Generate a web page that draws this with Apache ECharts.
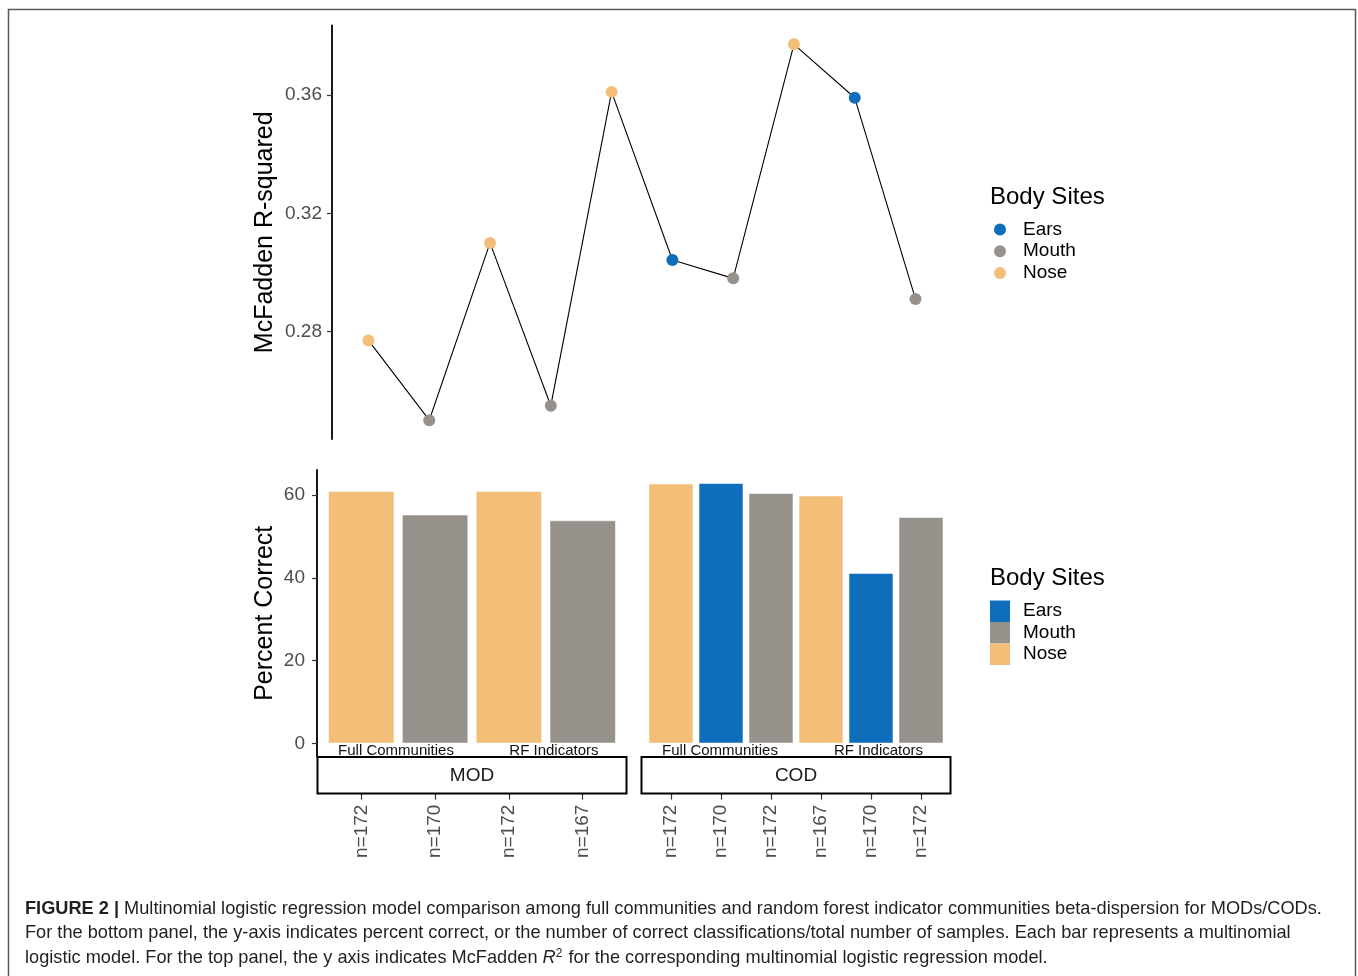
<!DOCTYPE html>
<html>
<head>
<meta charset="utf-8">
<title>Multinomial logistic regression model comparison</title>
<script src="https://cdn.jsdelivr.net/npm/echarts@6/dist/echarts.min.js"></script>
<style>
  html, body { margin: 0; padding: 0; background: #ffffff; }
  #main { width: 1358px; height: 976px; }
</style>
</head>
<body>
<div id="main"></div>
<script>
// ---- data ---------------------------------------------------------------
const siteNames = ['Ears', 'Mouth', 'Nose'];
const siteColors = { Ears: '#0e6ebb', Mouth: '#96918b', Nose: '#f2be78' };

// top panel: McFadden R-squared of each model, in plotting order
const r2Sites  = ['Nose', 'Mouth', 'Nose', 'Mouth', 'Nose', 'Ears', 'Mouth', 'Nose', 'Ears', 'Mouth'];
const r2Values = [0.2770, 0.2500, 0.3100, 0.2549, 0.3611, 0.3042, 0.2980, 0.3772, 0.3591, 0.2910];
const r2Ticks  = [0.28, 0.32, 0.36];

// bottom panel: percent correct, one facet per group
const modSites   = ['Nose', 'Mouth', 'Nose', 'Mouth'];
const modPercent = [61.0, 55.3, 61.0, 53.9];
const modN       = ['n=172', 'n=170', 'n=172', 'n=167'];

const codSites   = ['Nose', 'Ears', 'Mouth', 'Nose', 'Ears', 'Mouth'];
const codPercent = [62.8, 62.9, 60.5, 59.9, 41.2, 54.7];
const codN       = ['n=172', 'n=170', 'n=172', 'n=167', 'n=170', 'n=172'];

const communityTypes = ['Full Communities', 'RF Indicators'];
const pctTicks = [0, 20, 40, 60];
const facetNames = ['MOD', 'COD'];
const legendTitle = 'Body Sites';

// ---- helpers ------------------------------------------------------------
const FONT = '"Liberation Sans", Arial, Helvetica, sans-serif';
const TICK_GREY = '#4d4d4d';

// continuous range padded by 5% on both sides (ggplot-style)
function padRange(lo, hi) {
  const d = (hi - lo) * 0.05;
  return [lo - d, hi + d];
}
// discrete range: categories at 1..n with 0.6 units of padding
function discreteRange(n) { return [0.4, n + 0.6]; }

const r2Range  = padRange(Math.min(...r2Values), Math.max(...r2Values));
const pctRange = padRange(0, Math.max(...modPercent, ...codPercent));

const layout = {
  top: { left: 332, top: 25.5, width: 620, height: 413.5 },
  mod: { left: 317, top: 470, width: 310, height: 286.6 },
  cod: { left: 641, top: 470, width: 310, height: 286.6 },
  stripHeight: 36.5
};

// ---- grids --------------------------------------------------------------
const grids = [
  Object.assign({ containLabel: false }, layout.top),
  Object.assign({ containLabel: false }, layout.mod),
  Object.assign({ containLabel: false }, layout.cod)
];

// ---- axes ---------------------------------------------------------------
const xAxes = [];
const yAxes = [];

// top panel
xAxes.push({
  type: 'value', gridIndex: 0, min: discreteRange(r2Values.length)[0], max: discreteRange(r2Values.length)[1],
  show: false
});
yAxes.push({
  type: 'value', gridIndex: 0, min: r2Range[0], max: r2Range[1],
  name: 'McFadden R-squared', nameLocation: 'middle', nameGap: 54, nameRotate: 90,
  nameTextStyle: { fontSize: 25, color: '#000', fontFamily: FONT },
  axisLine: { show: true, onZero: false, lineStyle: { color: '#000', width: 1.8 } },
  axisTick: { show: true, length: 5, customValues: r2Ticks, lineStyle: { color: '#333', width: 1.2 } },
  axisLabel: { customValues: r2Ticks, margin: 10, fontSize: 19, color: TICK_GREY, fontFamily: FONT,
               formatter: v => v.toFixed(2) },
  splitLine: { show: false }
});

// bottom facets
function facetAxes(gridIndex, nLabels, communityPos, withYAxis) {
  const range = discreteRange(nLabels.length);
  const ticks = nLabels.map((_, i) => i + 1);
  // main axis: carries the bars and the sample-size labels below the strip
  xAxes.push({
    type: 'value', gridIndex: gridIndex, min: range[0], max: range[1],
    position: 'bottom', offset: layout.stripHeight + 0.5,
    axisLine: { show: false, onZero: false },
    axisTick: { show: true, length: 6, customValues: ticks, lineStyle: { color: '#333', width: 1.2 } },
    axisLabel: { customValues: ticks, rotate: 90, margin: 11, fontSize: 19, color: TICK_GREY, fontFamily: FONT,
                 formatter: v => nLabels[Math.round(v) - 1] },
    splitLine: { show: false }
  });
  // community type labels just below the bars
  xAxes.push({
    type: 'value', gridIndex: gridIndex, min: range[0], max: range[1],
    position: 'bottom', offset: 0,
    axisLine: { show: false, onZero: false }, axisTick: { show: false },
    axisLabel: { customValues: communityPos, margin: -13, fontSize: 15, color: '#111', fontFamily: FONT,
                 formatter: v => communityTypes[communityPos.indexOf(v)] },
    splitLine: { show: false }
  });
  yAxes.push({
    type: 'value', gridIndex: gridIndex, min: pctRange[0], max: pctRange[1],
    show: withYAxis,
    name: withYAxis ? 'Percent Correct' : '', nameLocation: 'middle', nameGap: 39, nameRotate: 90,
    nameTextStyle: { fontSize: 25, color: '#000', fontFamily: FONT },
    axisLine: { show: withYAxis, onZero: false, lineStyle: { color: '#000', width: 1.8 } },
    axisTick: { show: withYAxis, length: 5, customValues: pctTicks, lineStyle: { color: '#333', width: 1.2 } },
    axisLabel: { show: withYAxis, customValues: pctTicks, margin: 12, fontSize: 19, color: TICK_GREY, fontFamily: FONT },
    splitLine: { show: false }
  });
}
facetAxes(1, modN, [1.47, 3.61], true);   // x axes 1,2 / y axis 1
facetAxes(2, codN, [1.98, 5.15], false);  // x axes 3,4 / y axis 2

// ---- series -------------------------------------------------------------
const series = [];

// connecting line through all models
series.push({
  type: 'line', name: 'trend', xAxisIndex: 0, yAxisIndex: 0,
  data: r2Values.map((v, i) => [i + 1, v]),
  symbol: 'none', silent: true, z: 1,
  lineStyle: { color: '#000', width: 1.1 }
});
// points coloured by body site
siteNames.forEach(site => {
  series.push({
    type: 'scatter', name: site, xAxisIndex: 0, yAxisIndex: 0,
    data: r2Values.map((v, i) => [i + 1, v]).filter((_, i) => r2Sites[i] === site),
    symbol: 'circle', symbolSize: 12, z: 3,
    itemStyle: { color: siteColors[site], opacity: 1 }
  });
});

// bars, one series per site so they share a legend; overlapped in one slot
function facetBars(xIndex, yIndex, sites, values) {
  siteNames.forEach(site => {
    const pts = values.map((v, i) => [i + 1, v]).filter((_, i) => sites[i] === site);
    if (!pts.length) return;
    series.push({
      type: 'bar', name: site, xAxisIndex: xIndex, yAxisIndex: yIndex,
      data: pts, barWidth: '90%', barGap: '-100%',
      itemStyle: { color: siteColors[site], borderColor: 'rgba(255,255,255,0.55)', borderWidth: 1 }
    });
  });
}
facetBars(1, 1, modSites, modPercent);
facetBars(3, 2, codSites, codPercent);

// ---- legends ------------------------------------------------------------
const legendText = { fontSize: 19, color: '#000', fontFamily: FONT };
const legends = [
  {
    data: siteNames, orient: 'vertical', left: 994, top: 220, padding: 0,
    icon: 'circle', itemWidth: 12, itemHeight: 12, itemGap: 2.7,
    selectedMode: false,
    textStyle: Object.assign({ padding: [0, 0, 0, 12] }, legendText),
    itemStyle: { borderWidth: 0 }
  },
  {
    data: siteNames, orient: 'vertical', left: 990, top: 600.5, padding: 0,
    icon: 'rect', itemWidth: 20, itemHeight: 21.5, itemGap: 0,
    selectedMode: false,
    textStyle: Object.assign({ padding: [0, 0, 0, 8] }, legendText),
    itemStyle: { borderWidth: 0 }
  }
];
const titles = [
  { text: legendTitle, left: 990, top: 185, textStyle: { fontSize: 24, fontWeight: 'normal', color: '#000', fontFamily: FONT }, padding: 0 },
  { text: legendTitle, left: 990, top: 566, textStyle: { fontSize: 24, fontWeight: 'normal', color: '#000', fontFamily: FONT }, padding: 0 }
];

// ---- facet strips, figure frame and caption -------------------------------
function strip(box, label) {
  const y = box.top + box.height;
  return [
    { type: 'rect', z: 50,
      shape: { x: box.left + 0.5, y: y + 0.5, width: box.width - 1, height: layout.stripHeight },
      style: { fill: '#fff', stroke: '#000', lineWidth: 2 } },
    { type: 'text', z: 51,
      x: box.left + box.width / 2, y: y + 0.5 + layout.stripHeight / 2,
      style: { text: label, fill: '#1a1a1a', font: '19px ' + FONT, align: 'center', verticalAlign: 'middle' } }
  ];
}

const captionLines = [
  '{b|FIGURE 2 |} Multinomial logistic regression model comparison among full communities and random forest indicator communities beta-dispersion for MODs/CODs.',
  'For the bottom panel, the y-axis indicates percent correct, or the number of correct classifications/total number of samples. Each bar represents a multinomial',
  'logistic model. For the top panel, the y axis indicates McFadden {i|R}{sup|2} for the corresponding multinomial logistic regression model.'
];
const CAP = 18.2;

const graphics = [
  { type: 'rect', z: 0, silent: true,
    shape: { x: 8.5, y: 9.5, width: 1347, height: 990 },
    style: { fill: 'none', stroke: '#5a5a5a', lineWidth: 1.5 } },
  ...strip(layout.mod, facetNames[0]),
  ...strip(layout.cod, facetNames[1]),
  { type: 'text', z: 50, x: 25, y: 896.5,
    style: {
      text: captionLines.join('\n'),
      font: CAP + 'px ' + FONT, fill: '#231f20', lineHeight: 24.6,
      rich: {
        b:   { fontWeight: 'bold', fontSize: CAP, fontFamily: FONT, fill: '#231f20', lineHeight: 24.6 },
        i:   { fontStyle: 'italic', fontSize: CAP, fontFamily: FONT, fill: '#231f20', lineHeight: 24.6 },
        sup: { fontSize: 12, fontFamily: FONT, fill: '#231f20', padding: [0, 1, 9, 0], lineHeight: 24.6 }
      }
    } }
];

// ---- chart --------------------------------------------------------------
const chart = echarts.init(document.getElementById('main'), null, { renderer: 'canvas' });
chart.setOption({
  backgroundColor: '#ffffff',
  animation: false,
  textStyle: { fontFamily: FONT },
  title: titles,
  legend: legends,
  grid: grids,
  xAxis: xAxes,
  yAxis: yAxes,
  series: series,
  graphic: graphics
});
</script>
</body>
</html>
